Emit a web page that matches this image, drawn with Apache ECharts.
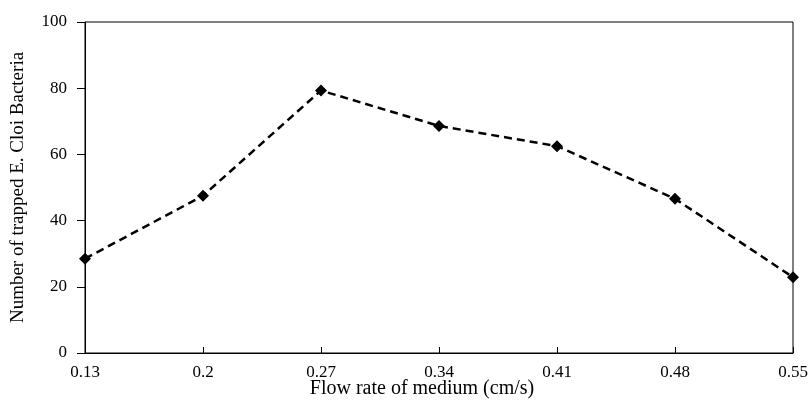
<!DOCTYPE html>
<html>
<head>
<meta charset="utf-8">
<script src="https://cdn.jsdelivr.net/npm/echarts@6/dist/echarts.min.js"></script>
<style>
  html, body { margin: 0; padding: 0; background: #fff; }
  #chart { width: 811px; height: 401px; }
</style>
</head>
<body>
<div id="chart"></div>
<script>
// flow rate categories and trapped bacteria counts
const flowRates = ['0.13', '0.2', '0.27', '0.34', '0.41', '0.48', '0.55']
const trappedCounts = [28.5, 47.5, 79.3, 68.6, 62.5, 46.6, 22.9]

const font = 'Liberation Serif'
const chart = echarts.init(document.getElementById('chart'))

chart.setOption({
  animation: false,
  grid: {
    left: 85, right: 18, top: 22, bottom: 48,
    outerBoundsMode: 'none',
    show: true, borderColor: '#000', borderWidth: 1
  },
  xAxis: {
    type: 'category',
    data: flowRates,
    boundaryGap: false,
    name: 'Flow rate of medium (cm/s)',
    nameLocation: 'middle',
    nameGap: 26,
    nameMoveOverlap: false,
    nameTextStyle: { fontFamily: font, fontSize: 20, color: '#000', padding: [0, 34, 0, 0] },
    axisLine: { lineStyle: { color: '#000', width: 1 } },
    axisTick: { inside: true, length: 6, alignWithLabel: true, lineStyle: { color: '#000' } },
    axisLabel: { fontFamily: font, fontSize: 17, color: '#000', margin: 11 },
    splitLine: { show: false }
  },
  yAxis: {
    type: 'value',
    min: 0,
    max: 100,
    interval: 20,
    name: 'Number of trapped E. Cloi Bacteria',
    nameLocation: 'middle',
    nameGap: 57,
    nameMoveOverlap: false,
    nameTextStyle: { fontFamily: font, fontSize: 19, color: '#000' },
    axisLine: { show: true, lineStyle: { color: '#000', width: 1 } },
    axisTick: { show: true, length: 8, lineStyle: { color: '#000' } },
    axisLabel: { fontFamily: font, fontSize: 17, color: '#000', margin: 18 },
    splitLine: { show: false }
  },
  series: [{
    type: 'line',
    data: trappedCounts,
    symbol: 'diamond',
    symbolSize: 12,
    itemStyle: { color: '#000' },
    lineStyle: { color: '#000', width: 2.5, type: [8, 5] }
  }]
})
</script>
</body>
</html>
